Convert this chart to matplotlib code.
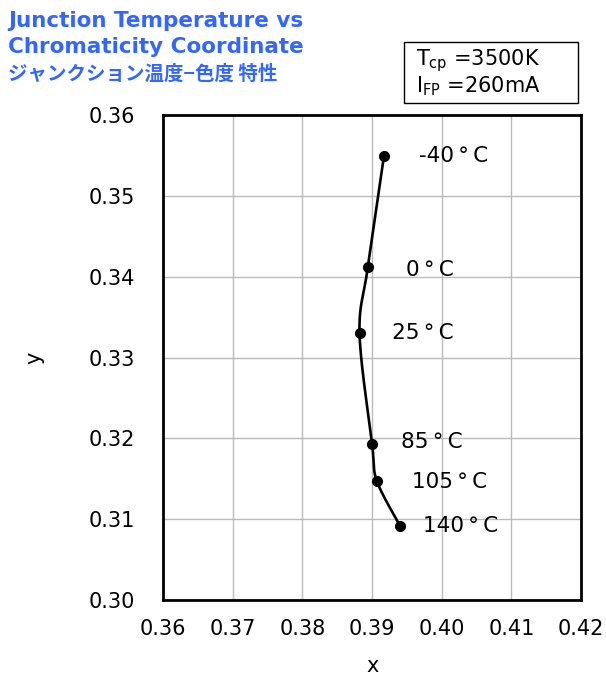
import numpy as np
from matplotlib import pyplot as plt
from matplotlib.patches import Rectangle

# data
temps = ['-40\u2009°\u2009C', '0\u2009°\u2009C', '25\u2009°\u2009C',
         '85\u2009°\u2009C', '105\u2009°\u2009C', '140\u2009°\u2009C']
cx = [0.3917, 0.3894, 0.3882, 0.3900, 0.3907, 0.3940]
cy = [0.3549, 0.3412, 0.3330, 0.3193, 0.3147, 0.3092]
# label anchor (left edge, centre) per point
lab_x = [0.3968, 0.3949, 0.3929, 0.3941, 0.3957, 0.3973]
lab_y = [0.3549, 0.3408, 0.3330, 0.3195, 0.3146, 0.3091]
xticks = [0.36, 0.37, 0.38, 0.39, 0.40, 0.41, 0.42]
yticks = [0.30, 0.31, 0.32, 0.33, 0.34, 0.35, 0.36]

blue = '#3366ff'
plt.rcParams['font.family'] = ['DejaVu Sans', 'Noto Sans CJK JP']


def smooth(px, py, n=30):
    # catmull-rom curve through the points, like a spreadsheet "smoothed line"
    p = np.column_stack([px, py])
    p = np.vstack([p[0], p, p[-1]])
    out = []
    t = np.linspace(0, 1, n)[:, None]
    for i in range(1, len(p) - 2):
        p0, p1, p2, p3 = p[i - 1], p[i], p[i + 1], p[i + 2]
        seg = 0.5 * ((2 * p1) + (-p0 + p2) * t + (2 * p0 - 5 * p1 + 4 * p2 - p3) * t ** 2
                     + (-p0 + 3 * p1 - 3 * p2 + p3) * t ** 3)
        out.append(seg)
    out = np.vstack(out)
    return out[:, 0], out[:, 1]


fig = plt.figure(figsize=(6.06, 6.76), dpi=100)
ax = fig.add_axes([0.269, 0.1124, 0.690, 0.7175])

sx, sy = smooth(cx, cy)
ax.plot(sx, sy, color='black', lw=1.9, zorder=3)
ax.plot(cx, cy, 'o', color='black', ms=7, zorder=4)
for t, lx, ly in zip(temps, lab_x, lab_y):
    ax.text(lx, ly, t, ha='left', va='center', fontsize=15.5, zorder=5)

ax.set_xlim(0.36, 0.42)
ax.set_ylim(0.30, 0.36)
ax.set_xticks(xticks)
ax.set_yticks(yticks)
ax.set_xticklabels([f'{v:.2f}' for v in xticks])
ax.set_yticklabels([f'{v:.2f}' for v in yticks])
ax.tick_params(length=0, labelsize=15)
ax.tick_params(axis='y', pad=20)
ax.tick_params(axis='x', pad=14)
ax.grid(True, color='#bbbbbb', lw=1)
ax.set_axisbelow(True)
for s in ax.spines.values():
    s.set_linewidth(2)
ax.set_xlabel('x', fontsize=15, labelpad=12)
ax.set_ylabel('y', fontsize=15, labelpad=32)

fig.text(0.013, 0.969, 'Junction Temperature vs', color=blue, fontsize=15.5,
         fontweight='bold', va='center')
fig.text(0.013, 0.930, 'Chromaticity Coordinate', color=blue, fontsize=15.5,
         fontweight='bold', va='center')
fig.text(0.013, 0.891, 'ジャンクション温度−色度 特性', color=blue, fontsize=14,
         fontweight='bold', va='center', family=['Noto Sans CJK JP', 'DejaVu Sans'])

fig.add_artist(Rectangle((0.6667, 0.8476), 0.2871, 0.0903, transform=fig.transFigure,
                         fc='white', ec='black', lw=1))
fig.text(0.686, 0.911, '$\\mathregular{T_{cp}}$ =3500K', fontsize=15, va='center')
fig.text(0.686, 0.872, '$\\mathregular{I_{FP}}$ =260mA', fontsize=15, va='center')

fig.savefig('out.png', dpi=100)
